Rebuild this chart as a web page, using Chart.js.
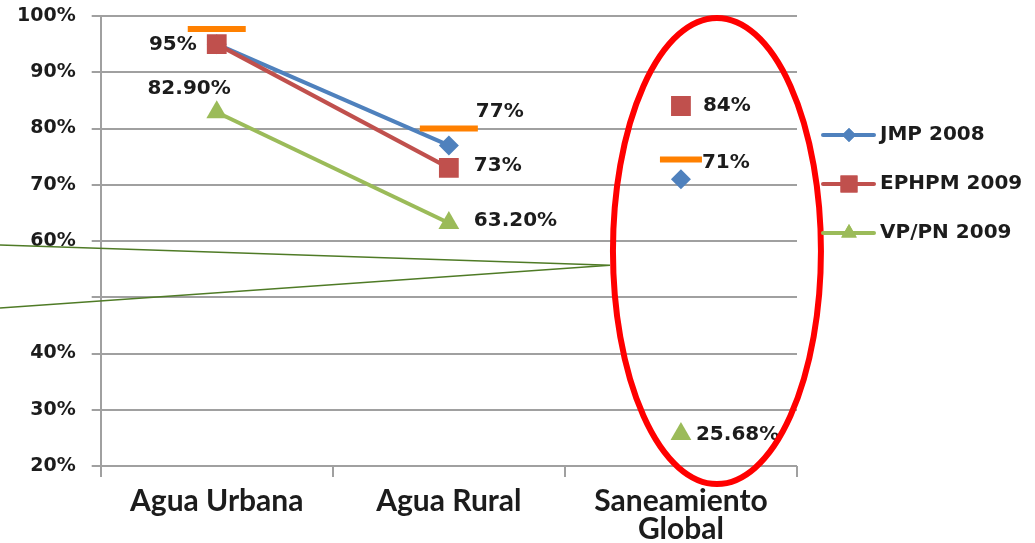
<!DOCTYPE html>
<html>
<head>
<meta charset="utf-8">
<script src="https://cdn.jsdelivr.net/npm/chart.js@4"></script>
<style>
  html, body { margin: 0; padding: 0; background: #fff; }
  #wrap { width: 1035px; height: 543px; position: relative; }
</style>
</head>
<body>
<div id="wrap"><canvas id="chart"></canvas></div>
<script>
// categories on the x axis
var categories = ['Agua Urbana', 'Agua Rural', ['Saneamiento', 'Global']];
// series values (percent)
var jmp2008 = [95, 77, 71];
var ephpm2009 = [95, 73, 84];
var vppn2009 = [82.9, 63.2, 25.68];
// orange target dashes
var metas = [97.7, 80, 74.5];
// y axis range
var yMin = 20, yMax = 100, yStep = 10;

var WIDE = '"DejaVu Sans", sans-serif';
var NARROW = 'Lato, "Open Sans", sans-serif';
var TEXT = '#1c1c1c';
var BLUE = '#4F81BD', RED = '#C0504D', GREEN = '#9BBB59', ORANGE = '#FF8000';

// label text per dataset (null = no label)
var labelText = {
  jmp: jmp2008.map(function(v, i) { return i === 0 ? null : v + '%'; }),
  ephpm: ephpm2009.map(function(v) { return v + '%'; }),
  vp: vppn2009.map(function(v) { return v.toFixed(2) + '%'; })
};
// where each label sits relative to its point
var labelPos = {
  jmp: [null, { dx: 27, dy: -34, align: 'left' }, { dx: 21, dy: -16, align: 'left' }],
  ephpm: [{ dx: -20, dy: 1, align: 'right' }, { dx: 25, dy: -2, align: 'left' }, { dx: 22, dy: 0, align: 'left' }],
  vp: [{ dx: 14, dy: -23, align: 'right' }, { dx: 25, dy: -2, align: 'left' }, { dx: 15, dy: 1, align: 'left' }]
};

// no line between Agua Rural and Saneamiento
var hideLast = function(ctx) {
  return ctx.p0DataIndex === 1 ? 'rgba(0,0,0,0)' : undefined;
};

// draw value labels next to points
var valueLabels = {
  id: 'valueLabels',
  afterDatasetsDraw: function(chart) {
    var c = chart.ctx;
    c.save();
    c.font = 'bold 20px ' + WIDE;
    c.fillStyle = TEXT;
    c.textBaseline = 'middle';
    chart.data.datasets.forEach(function(ds, di) {
      if (!ds.key) return;
      var meta = chart.getDatasetMeta(di);
      meta.data.forEach(function(pt, i) {
        var txt = labelText[ds.key][i];
        var pos = labelPos[ds.key][i];
        if (!txt || !pos) return;
        c.textAlign = pos.align;
        c.fillText(txt, pt.x + pos.dx, pt.y + pos.dy);
      });
    });
    c.restore();
  }
};

// legend on the right: line with marker, then name
var sideLegend = {
  id: 'sideLegend',
  afterDraw: function(chart) {
    var c = chart.ctx;
    var items = [
      { name: 'JMP 2008', color: BLUE, style: 'rectRot', r: 7 },
      { name: 'EPHPM 2009', color: RED, style: 'rect', r: 12 },
      { name: 'VP/PN 2009', color: GREEN, style: 'triangle', r: 9 }
    ];
    c.save();
    items.forEach(function(it, i) {
      var y = 135 + i * 49;
      c.strokeStyle = it.color;
      c.lineWidth = 4;
      c.lineCap = 'round';
      c.beginPath();
      c.moveTo(823, y);
      c.lineTo(874, y);
      c.stroke();
      c.fillStyle = it.color;
      Chart.helpers.drawPoint(c, { pointStyle: it.style, radius: it.r, borderWidth: 0 }, 849, y);
      c.fill();
      c.font = 'bold 20px ' + WIDE;
      c.fillStyle = TEXT;
      c.textAlign = 'left';
      c.textBaseline = 'middle';
      c.fillText(it.name, 880, y);
    });
    c.restore();
  }
};

// red ellipse around Saneamiento and the green callout pointer
var marks = {
  id: 'marks',
  afterDraw: function(chart) {
    var c = chart.ctx;
    var x = chart.scales.x, y = chart.scales.y;
    var cx = x.getPixelForValue(2) + 36;
    var cy = chart.chartArea.top + 235;
    c.save();
    c.strokeStyle = '#FF0000';
    c.lineWidth = 6;
    c.beginPath();
    c.ellipse(cx, cy, 104, 233, 0, 0, Math.PI * 2);
    c.stroke();
    var tipX = 610, tipY = y.getPixelForValue(55.7);
    c.strokeStyle = '#4F7B26';
    c.lineWidth = 1.6;
    c.beginPath();
    c.moveTo(0, 245);
    c.lineTo(tipX, tipY);
    c.lineTo(0, 308);
    c.stroke();
    c.restore();
  }
};

var data = {
  labels: categories,
  datasets: [
    {
      label: 'Meta',
      data: metas,
      showLine: false,
      pointStyle: 'line',
      pointRadius: [29, 29, 21],
      pointBorderWidth: 6,
      borderColor: ORANGE,
      backgroundColor: ORANGE,
      order: 0
    },
    {
      key: 'ephpm',
      label: 'EPHPM 2009',
      data: ephpm2009,
      borderColor: RED,
      backgroundColor: RED,
      borderWidth: 4,
      pointStyle: 'rect',
      pointRadius: 14,
      pointBorderWidth: 0,
      segment: { borderColor: hideLast },
      order: 1
    },
    {
      key: 'jmp',
      label: 'JMP 2008',
      data: jmp2008,
      borderColor: BLUE,
      backgroundColor: BLUE,
      borderWidth: 4,
      pointStyle: 'rectRot',
      pointRadius: 10,
      pointBorderWidth: 0,
      segment: { borderColor: hideLast },
      order: 2
    },
    {
      key: 'vp',
      label: 'VP/PN 2009',
      data: vppn2009,
      borderColor: GREEN,
      backgroundColor: GREEN,
      borderWidth: 4,
      pointStyle: 'triangle',
      pointRadius: 12,
      pointBorderWidth: 0,
      segment: { borderColor: hideLast },
      order: 3
    }
  ]
};

var options = {
  responsive: true,
  maintainAspectRatio: false,
  animation: false,
  layout: { autoPadding: false, padding: { top: 0, right: 238, left: 1, bottom: -11 } },
  plugins: {
    legend: { display: false },
    tooltip: { enabled: false }
  },
  scales: {
    x: {
      type: 'category',
      offset: true,
      grid: { offset: true, drawOnChartArea: false, drawTicks: true, tickLength: 11, color: '#a0a0a0', lineWidth: 2 },
      border: { display: false },
      ticks: { font: { family: NARROW, size: 30, weight: 'bold', lineHeight: 0.95 }, color: TEXT, padding: 10, maxRotation: 0 }
    },
    y: {
      min: yMin,
      max: yMax,
      grid: { color: '#a0a0a0', lineWidth: 2, tickLength: 9 },
      border: { color: '#a0a0a0', width: 2 },
      // top gridline sits close to the top edge
      afterFit: function(scale) { scale.paddingTop = 16; },
      ticks: {
        stepSize: yStep,
        font: { family: WIDE, size: 19, weight: 'bold' },
        color: TEXT,
        padding: 16,
        // 50% label is hidden under the callout in the original
        callback: function(v) { return v === 50 ? '' : v + '%'; }
      }
    }
  }
};

new Chart(document.getElementById('chart'), {
  type: 'line',
  data: data,
  options: options,
  plugins: [valueLabels, marks, sideLegend]
});
</script>
</body>
</html>
